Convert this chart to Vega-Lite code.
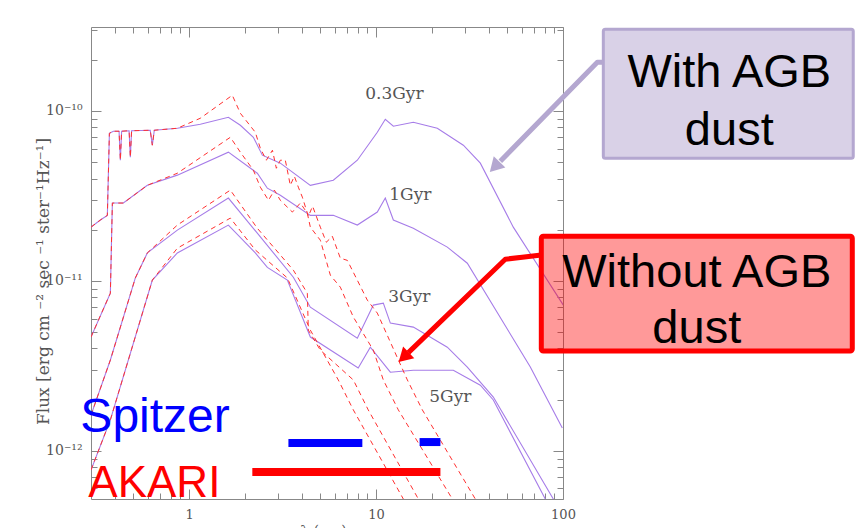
{
"$schema":"https://vega.github.io/schema/vega-lite/v6.json",
"width":472,"height":472,
"autosize":{"type":"none"},
"padding":{"left":91,"top":27,"right":292,"bottom":29},
"background":"white",
"config":{"view":{"stroke":null},"axis":{"grid":false,"domainColor":"#888","tickColor":"#888","labelFont":"DejaVu Serif","labelColor":"#555","labelFontSize":14,"titleFont":"DejaVu Serif","titleColor":"#555","titleFontWeight":"normal","titleFontSize":17}},
"resolve":{"axis":{"x":"independent","y":"independent"}},
"datasets":{
"curves":[
{"s":"0.3","t":"w","x":0.299,"y":2.07e-11},{"s":"0.3","t":"w","x":0.3355,"y":2.28e-11},{"s":"0.3","t":"w","x":0.3657,"y":2.43e-11},{"s":"0.3","t":"w","x":0.375,"y":7.39e-11},{"s":"0.3","t":"w","x":0.3937,"y":7.6e-11},{"s":"0.3","t":"w","x":0.4224,"y":7.6e-11},{"s":"0.3","t":"w","x":0.4292,"y":5.13e-11},{"s":"0.3","t":"w","x":0.436,"y":7.6e-11},{"s":"0.3","t":"w","x":0.478,"y":7.65e-11},{"s":"0.3","t":"w","x":0.4854,"y":5.34e-11},{"s":"0.3","t":"w","x":0.493,"y":7.65e-11},{"s":"0.3","t":"w","x":0.62,"y":7.7e-11},{"s":"0.3","t":"w","x":0.6364,"y":6.29e-11},{"s":"0.3","t":"w","x":0.652,"y":7.7e-11},{"s":"0.3","t":"w","x":0.8659,"y":7.91e-11},{"s":"0.3","t":"w","x":1.149,"y":8.35e-11},{"s":"0.3","t":"w","x":1.623,"y":9.18e-11},{"s":"0.3","t":"w","x":1.881,"y":8.24e-11},{"s":"0.3","t":"w","x":2.208,"y":7.0e-11},{"s":"0.3","t":"w","x":2.466,"y":5.49e-11},{"s":"0.3","t":"w","x":3.078,"y":4.93e-11},{"s":"0.3","t":"w","x":4.454,"y":3.65e-11},{"s":"0.3","t":"w","x":5.911,"y":3.91e-11},{"s":"0.3","t":"w","x":7.943,"y":5.13e-11},{"s":"0.3","t":"w","x":10.16,"y":7.49e-11},{"s":"0.3","t":"w","x":11.21,"y":8.94e-11},{"s":"0.3","t":"w","x":12.38,"y":8.13e-11},{"s":"0.3","t":"w","x":15.83,"y":8.58e-11},{"s":"0.3","t":"w","x":21.27,"y":7.91e-11},{"s":"0.3","t":"w","x":29.31,"y":6.29e-11},{"s":"0.3","t":"w","x":36.13,"y":4.93e-11},{"s":"0.3","t":"w","x":54.22,"y":2.07e-11},{"s":"0.3","t":"w","x":100.4,"y":7.2e-12},
{"s":"1","t":"w","x":0.299,"y":4.67e-12},{"s":"1","t":"w","x":0.3795,"y":8.46e-12},{"s":"1","t":"w","x":0.389,"y":2.87e-11},{"s":"1","t":"w","x":0.4454,"y":2.87e-11},{"s":"1","t":"w","x":0.5984,"y":3.65e-11},{"s":"1","t":"w","x":0.8659,"y":4.19e-11},{"s":"1","t":"w","x":1.623,"y":5.72e-11},{"s":"1","t":"w","x":2.318,"y":4.3e-11},{"s":"1","t":"w","x":2.623,"y":3.51e-11},{"s":"1","t":"w","x":3.078,"y":3.19e-11},{"s":"1","t":"w","x":4.454,"y":2.43e-11},{"s":"1","t":"w","x":5.911,"y":2.43e-11},{"s":"1","t":"w","x":7.943,"y":2.13e-11},{"s":"1","t":"w","x":10.16,"y":2.54e-11},{"s":"1","t":"w","x":11.21,"y":3.07e-11},{"s":"1","t":"w","x":12.38,"y":2.28e-11},{"s":"1","t":"w","x":15.83,"y":2.04e-11},{"s":"1","t":"w","x":24.06,"y":1.58e-11},{"s":"1","t":"w","x":30.78,"y":1.27e-11},{"s":"1","t":"w","x":66.87,"y":3.11e-12},{"s":"1","t":"w","x":99.15,"y":1.36e-12},
{"s":"3","t":"w","x":0.299,"y":1.62e-12},{"s":"3","t":"w","x":0.3795,"y":3.42e-12},{"s":"3","t":"w","x":0.5162,"y":1.04e-11},{"s":"3","t":"w","x":0.5984,"y":1.46e-11},{"s":"3","t":"w","x":0.8659,"y":1.99e-11},{"s":"3","t":"w","x":1.623,"y":3.07e-11},{"s":"3","t":"w","x":2.318,"y":1.91e-11},{"s":"3","t":"w","x":3.613,"y":1.05e-11},{"s":"3","t":"w","x":4.454,"y":7.0e-12},{"s":"3","t":"w","x":7.943,"y":4.6e-12},{"s":"3","t":"w","x":9.674,"y":7.2e-12},{"s":"3","t":"w","x":10.94,"y":7.39e-12},{"s":"3","t":"w","x":11.93,"y":5.64e-12},{"s":"3","t":"w","x":15.83,"y":5.34e-12},{"s":"3","t":"w","x":24.06,"y":4.07e-12},{"s":"3","t":"w","x":30.78,"y":3.11e-12},{"s":"3","t":"w","x":42.4,"y":2.07e-12},{"s":"3","t":"w","x":88.74,"y":5.2e-13},{"s":"3","t":"w","x":95,"y":4.5e-13},
{"s":"5","t":"w","x":0.299,"y":7.7e-13},{"s":"5","t":"w","x":0.3795,"y":1.52e-12},{"s":"5","t":"w","x":0.6364,"y":1.01e-11},{"s":"5","t":"w","x":0.8659,"y":1.46e-11},{"s":"5","t":"w","x":1.623,"y":2.13e-11},{"s":"5","t":"w","x":2.262,"y":1.46e-11},{"s":"5","t":"w","x":2.623,"y":1.2e-11},{"s":"5","t":"w","x":3.356,"y":1.01e-11},{"s":"5","t":"w","x":4.454,"y":4.67e-12},{"s":"5","t":"w","x":8.03,"y":3.07e-12},{"s":"5","t":"w","x":9.322,"y":4.07e-12},{"s":"5","t":"w","x":11.93,"y":2.9e-12},{"s":"5","t":"w","x":15.83,"y":2.98e-12},{"s":"5","t":"w","x":25.91,"y":2.98e-12},{"s":"5","t":"w","x":36.13,"y":2.43e-12},{"s":"5","t":"w","x":42.4,"y":1.99e-12},{"s":"5","t":"w","x":80.4,"y":5.2e-13},{"s":"5","t":"w","x":86,"y":4.5e-13},
{"s":"0.3","t":"n","x":0.299,"y":2.07e-11},{"s":"0.3","t":"n","x":0.3355,"y":2.28e-11},{"s":"0.3","t":"n","x":0.3657,"y":2.43e-11},{"s":"0.3","t":"n","x":0.375,"y":7.39e-11},{"s":"0.3","t":"n","x":0.3937,"y":7.6e-11},{"s":"0.3","t":"n","x":0.4224,"y":7.6e-11},{"s":"0.3","t":"n","x":0.4292,"y":5.13e-11},{"s":"0.3","t":"n","x":0.436,"y":7.6e-11},{"s":"0.3","t":"n","x":0.478,"y":7.65e-11},{"s":"0.3","t":"n","x":0.4854,"y":5.34e-11},{"s":"0.3","t":"n","x":0.493,"y":7.65e-11},{"s":"0.3","t":"n","x":0.62,"y":7.7e-11},{"s":"0.3","t":"n","x":0.6364,"y":6.29e-11},{"s":"0.3","t":"n","x":0.652,"y":7.7e-11},{"s":"0.3","t":"n","x":0.8659,"y":7.91e-11},{"s":"0.3","t":"n","x":1.149,"y":9.06e-11},{"s":"0.3","t":"n","x":1.704,"y":1.237e-10},{"s":"0.3","t":"n","x":1.881,"y":9.69e-11},{"s":"0.3","t":"n","x":2.262,"y":7.49e-11},{"s":"0.3","t":"n","x":2.406,"y":6.03e-11},{"s":"0.3","t":"n","x":2.591,"y":5.13e-11},{"s":"0.3","t":"n","x":2.793,"y":5.87e-11},{"s":"0.3","t":"n","x":2.93,"y":4.6e-11},{"s":"0.3","t":"n","x":3.078,"y":5.13e-11},{"s":"0.3","t":"n","x":3.273,"y":5.13e-11},{"s":"0.3","t":"n","x":3.481,"y":3.65e-11},{"s":"0.3","t":"n","x":3.657,"y":4.13e-11},{"s":"0.3","t":"n","x":3.841,"y":3.56e-11},{"s":"0.3","t":"n","x":4.036,"y":3.11e-11},{"s":"0.3","t":"n","x":4.345,"y":2.4e-11},{"s":"0.3","t":"n","x":4.58,"y":2.75e-11},{"s":"0.3","t":"n","x":5.037,"y":2.07e-11},{"s":"0.3","t":"n","x":5.424,"y":1.688e-11},{"s":"0.3","t":"n","x":5.84,"y":1.83e-11},{"s":"0.3","t":"n","x":6.444,"y":1.36e-11},{"s":"0.3","t":"n","x":7.024,"y":1.32e-11},{"s":"0.3","t":"n","x":8.984,"y":7.7e-12},{"s":"0.3","t":"n","x":10.16,"y":6.46e-12},{"s":"0.3","t":"n","x":14.71,"y":2.61e-12},{"s":"0.3","t":"n","x":17.69,"y":1.74e-12},{"s":"0.3","t":"n","x":33.96,"y":5.2e-13},{"s":"0.3","t":"n","x":36.13,"y":4.6e-13},
{"s":"1","t":"n","x":0.299,"y":4.67e-12},{"s":"1","t":"n","x":0.3795,"y":8.46e-12},{"s":"1","t":"n","x":0.389,"y":2.87e-11},{"s":"1","t":"n","x":0.4454,"y":2.87e-11},{"s":"1","t":"n","x":0.5984,"y":3.65e-11},{"s":"1","t":"n","x":0.8659,"y":4.3e-11},{"s":"1","t":"n","x":1.663,"y":7.0e-11},{"s":"1","t":"n","x":1.881,"y":5.72e-11},{"s":"1","t":"n","x":2.208,"y":4.48e-11},{"s":"1","t":"n","x":2.406,"y":3.56e-11},{"s":"1","t":"n","x":2.66,"y":2.98e-11},{"s":"1","t":"n","x":2.86,"y":3.42e-11},{"s":"1","t":"n","x":3.078,"y":2.98e-11},{"s":"1","t":"n","x":3.57,"y":2.54e-11},{"s":"1","t":"n","x":3.937,"y":2.87e-11},{"s":"1","t":"n","x":4.292,"y":2.5e-11},{"s":"1","t":"n","x":4.454,"y":2.07e-11},{"s":"1","t":"n","x":5.037,"y":1.735e-11},{"s":"1","t":"n","x":5.7,"y":1.079e-11},{"s":"1","t":"n","x":6.444,"y":9.18e-12},{"s":"1","t":"n","x":7.562,"y":6.12e-12},{"s":"1","t":"n","x":9.674,"y":3.91e-12},{"s":"1","t":"n","x":10.94,"y":2.61e-12},{"s":"1","t":"n","x":13.16,"y":1.74e-12},{"s":"1","t":"n","x":25.59,"y":5.2e-13},{"s":"1","t":"n","x":27,"y":4.6e-13},
{"s":"3","t":"n","x":0.299,"y":1.62e-12},{"s":"3","t":"n","x":0.3795,"y":3.42e-12},{"s":"3","t":"n","x":0.5162,"y":1.04e-11},{"s":"3","t":"n","x":0.5984,"y":1.46e-11},{"s":"3","t":"n","x":0.8659,"y":2.13e-11},{"s":"3","t":"n","x":1.663,"y":3.42e-11},{"s":"3","t":"n","x":2.318,"y":2.04e-11},{"s":"3","t":"n","x":3.613,"y":1.156e-11},{"s":"3","t":"n","x":4.292,"y":8.46e-12},{"s":"3","t":"n","x":4.345,"y":5.13e-12},{"s":"3","t":"n","x":5.037,"y":3.91e-12},{"s":"3","t":"n","x":7.562,"y":2.61e-12},{"s":"3","t":"n","x":9.085,"y":1.74e-12},{"s":"3","t":"n","x":16.84,"y":5.2e-13},{"s":"3","t":"n","x":18,"y":4.6e-13},
{"s":"5","t":"n","x":0.299,"y":7.7e-13},{"s":"5","t":"n","x":0.3795,"y":1.52e-12},{"s":"5","t":"n","x":0.6364,"y":1.01e-11},{"s":"5","t":"n","x":0.8659,"y":1.557e-11},{"s":"5","t":"n","x":1.663,"y":2.34e-11},{"s":"5","t":"n","x":2.262,"y":1.52e-11},{"s":"5","t":"n","x":3.356,"y":1.04e-11},{"s":"5","t":"n","x":4.454,"y":5.13e-12},{"s":"5","t":"n","x":6.285,"y":2.61e-12},{"s":"5","t":"n","x":7.562,"y":1.74e-12},{"s":"5","t":"n","x":14.0,"y":5.2e-13},{"s":"5","t":"n","x":15,"y":4.6e-13}
]},
"layer":[
{"data":{"name":"curves"},"transform":[{"filter":"datum.t == 'w'"}],
 "mark":{"type":"line","clip":true,"color":"#a67ce8","strokeWidth":1.1},
 "encoding":{
  "x":{"field":"x","type":"quantitative","scale":{"type":"log","domain":[0.299,100],"nice":false},
   "axis":{"orient":"bottom","values":[1,10,100],"tickSize":-10,"labelPadding":19,"labelFontSize":13,"format":"~g","labelFlush":false,"labelOverlap":false,"title":"λ (μm)","titleFontSize":14,"titleX":232,"titleY":25,"titleBaseline":"top","titleAlign":"center"}},
  "y":{"field":"y","type":"quantitative","scale":{"type":"log","domain":[5.2e-13,3.12e-10],"nice":false},
   "axis":{"orient":"left","values":[1e-12,1e-11,1e-10],"tickSize":-10,"labelPadding":19,"labelFlush":false,"labelOverlap":false,"labelExpr":"datum.value < 5e-12 ? '10⁻¹²' : datum.value < 5e-11 ? '10⁻¹¹' : '10⁻¹⁰'","title":"Flux [erg cm  ⁻² sec  ⁻¹ ster⁻¹Hz⁻¹]","titleX":-48,"titleY":254,"titleAngle":-90,"titleAlign":"center","titleBaseline":"middle"}},
  "detail":{"field":"s"}}},
{"data":{"name":"curves"},"transform":[{"filter":"datum.t == 'n'"}],
 "mark":{"type":"line","clip":true,"color":"#ff3030","strokeWidth":1,"strokeDash":[5,4]},
 "encoding":{
  "x":{"field":"x","type":"quantitative","scale":{"type":"log","domain":[0.299,100],"nice":false},
   "axis":{"orient":"top","values":[1,10,100],"tickSize":-10,"labels":false,"title":null}},
  "y":{"field":"y","type":"quantitative","scale":{"type":"log","domain":[5.2e-13,3.12e-10],"nice":false},
   "axis":{"orient":"right","values":[1e-12,1e-11,1e-10],"tickSize":-10,"labels":false,"title":null}},
  "detail":{"field":"s"}}},
{"data":{"values":[{"label":"0.3Gyr","x":12.53,"y":1.254e-10},{"label":"1Gyr","x":15.26,"y":3.19e-11},{"label":"3Gyr","x":15.07,"y":8.02e-12},{"label":"5Gyr","x":24.96,"y":2.07e-12}]},
 "mark":{"type":"text","font":"DejaVu Serif","fontSize":17,"color":"#555","align":"center","baseline":"middle"},
 "encoding":{
  "x":{"field":"x","type":"quantitative","scale":{"type":"log","domain":[0.299,100],"nice":false},
   "axis":{"orient":"bottom","values":[0.4,0.5,0.6,0.7,0.8,0.9,2,3,4,5,6,7,8,9,20,30,40,50,60,70,80,90],"tickSize":-6,"labels":false,"title":null,"domain":false}},
  "y":{"field":"y","type":"quantitative","scale":{"type":"log","domain":[5.2e-13,3.12e-10],"nice":false},
   "axis":{"orient":"left","values":[6e-13,7e-13,8e-13,9e-13,2e-12,3e-12,4e-12,5e-12,6e-12,7e-12,8e-12,9e-12,2e-11,3e-11,4e-11,5e-11,6e-11,7e-11,8e-11,9e-11,2e-10,3e-10],"tickSize":-6,"labels":false,"title":null,"domain":false}},
  "text":{"field":"label"}}},
{"data":{"values":[{"x":3.4,"x2":8.45,"y":1.11e-12},{"x":17.1,"x2":22.1,"y":1.125e-12}]},
 "mark":{"type":"rule","clip":false,"color":"#0000ff","strokeWidth":8},
 "encoding":{
  "x":{"field":"x","type":"quantitative","scale":{"type":"log","domain":[0.299,100],"nice":false},
   "axis":{"orient":"top","values":[0.4,0.5,0.6,0.7,0.8,0.9,2,3,4,5,6,7,8,9,20,30,40,50,60,70,80,90],"tickSize":-6,"labels":false,"title":null,"domain":false}},
  "x2":{"field":"x2"},
  "y":{"field":"y","type":"quantitative","scale":{"type":"log","domain":[5.2e-13,3.12e-10],"nice":false},
   "axis":{"orient":"right","values":[6e-13,7e-13,8e-13,9e-13,2e-12,3e-12,4e-12,5e-12,6e-12,7e-12,8e-12,9e-12,2e-11,3e-11,4e-11,5e-11,6e-11,7e-11,8e-11,9e-11,2e-10,3e-10],"tickSize":-6,"labels":false,"title":null,"domain":false}}}},
{"data":{"values":[{"x":2.18,"x2":22.1,"y":7.49e-13}]},
 "mark":{"type":"rule","clip":false,"color":"#ff0000","strokeWidth":8},
 "encoding":{"x":{"field":"x","type":"quantitative","scale":{"type":"log","domain":[0.299,100],"nice":false},"axis":null},"x2":{"field":"x2"},
  "y":{"field":"y","type":"quantitative","scale":{"type":"log","domain":[5.2e-13,3.12e-10],"nice":false},"axis":null}}},
{"data":{"values":[{"t":"Spitzer","x":0.2623,"y":1.288e-12}]},
 "mark":{"type":"text","clip":false,"font":"Liberation Sans","fontSize":48,"color":"#0000ff","align":"left","baseline":"alphabetic"},
 "encoding":{"x":{"field":"x","type":"quantitative","scale":{"type":"log","domain":[0.299,100],"nice":false},"axis":null},
  "y":{"field":"y","type":"quantitative","scale":{"type":"log","domain":[5.2e-13,3.12e-10],"nice":false},"axis":null},"text":{"field":"t"}}},
{"data":{"values":[{"t":"AKARI","x":0.2893,"y":5.34e-13}]},
 "mark":{"type":"text","clip":false,"font":"Liberation Sans","fontSize":44,"color":"#ff0000","align":"left","baseline":"alphabetic"},
 "encoding":{"x":{"field":"x","type":"quantitative","scale":{"type":"log","domain":[0.299,100],"nice":false},"axis":null},
  "y":{"field":"y","type":"quantitative","scale":{"type":"log","domain":[5.2e-13,3.12e-10],"nice":false},"axis":null},"text":{"field":"t"}}},
{"data":{"values":[{"x":164.3,"x2":3567,"y":3.023e-10,"y2":5.27e-11}]},
 "mark":{"type":"rect","clip":false,"fill":"#d9d1e7","stroke":"#b4a7d0","strokeWidth":3,"cornerRadius":2},
 "encoding":{"x":{"field":"x","type":"quantitative","scale":{"type":"log","domain":[0.299,100],"nice":false},"axis":null},"x2":{"field":"x2"},
  "y":{"field":"y","type":"quantitative","scale":{"type":"log","domain":[5.2e-13,3.12e-10],"nice":false},"axis":null},"y2":{"field":"y2"}}},
{"data":{"values":[{"o":1,"x":164.3,"y":1.934e-10},{"o":2,"x":152.6,"y":1.934e-10},{"o":3,"x":46.2,"y":5.06e-11}]},
 "mark":{"type":"line","clip":false,"color":"#b4a7d0","strokeWidth":5,"strokeJoin":"round"},
 "encoding":{"x":{"field":"x","type":"quantitative","scale":{"type":"log","domain":[0.299,100],"nice":false},"axis":null},
  "y":{"field":"y","type":"quantitative","scale":{"type":"log","domain":[5.2e-13,3.12e-10],"nice":false},"axis":null},"order":{"field":"o"}}},
{"data":{"values":[{"x":43.99,"y":4.79e-11}]},
 "mark":{"type":"point","clip":false,"shape":"triangle","filled":true,"color":"#b4a7d0","opacity":1,"size":260,"angle":224},
 "encoding":{"x":{"field":"x","type":"quantitative","scale":{"type":"log","domain":[0.299,100],"nice":false},"axis":null},
  "y":{"field":"y","type":"quantitative","scale":{"type":"log","domain":[5.2e-13,3.12e-10],"nice":false},"axis":null}}},
{"data":{"values":[{"x":76.56,"x2":3525,"y":1.833e-11,"y2":3.86e-12}]},
 "mark":{"type":"rect","clip":false,"fill":"#ff0000","fillOpacity":0.4,"stroke":"#ff0000","strokeWidth":5,"cornerRadius":2},
 "encoding":{"x":{"field":"x","type":"quantitative","scale":{"type":"log","domain":[0.299,100],"nice":false},"axis":null},"x2":{"field":"x2"},
  "y":{"field":"y","type":"quantitative","scale":{"type":"log","domain":[5.2e-13,3.12e-10],"nice":false},"axis":null},"y2":{"field":"y2"}}},
{"data":{"values":[{"o":1,"x":76.56,"y":1.42e-11},{"o":2,"x":49.14,"y":1.341e-11},{"o":3,"x":14.89,"y":3.78e-12}]},
 "mark":{"type":"line","clip":false,"color":"#ff0000","strokeWidth":5,"strokeJoin":"round"},
 "encoding":{"x":{"field":"x","type":"quantitative","scale":{"type":"log","domain":[0.299,100],"nice":false},"axis":null},
  "y":{"field":"y","type":"quantitative","scale":{"type":"log","domain":[5.2e-13,3.12e-10],"nice":false},"axis":null},"order":{"field":"o"}}},
{"data":{"values":[{"x":14.35,"y":3.63e-12}]},
 "mark":{"type":"point","clip":false,"shape":"triangle","filled":true,"color":"#ff0000","opacity":1,"size":260,"angle":226},
 "encoding":{"x":{"field":"x","type":"quantitative","scale":{"type":"log","domain":[0.299,100],"nice":false},"axis":null},
  "y":{"field":"y","type":"quantitative","scale":{"type":"log","domain":[5.2e-13,3.12e-10],"nice":false},"axis":null}}},
{"data":{"values":[{"t":"With AGB","x":775.1,"y":1.378e-10},{"t":"dust","x":775.1,"y":6.28e-11},{"t":"Without AGB","x":519.4,"y":9.18e-12},{"t":"dust","x":519.4,"y":4.3e-12}]},
 "mark":{"type":"text","clip":false,"font":"Liberation Sans","fontSize":47,"color":"#000000","align":"center","baseline":"alphabetic"},
 "encoding":{"x":{"field":"x","type":"quantitative","scale":{"type":"log","domain":[0.299,100],"nice":false},"axis":null},
  "y":{"field":"y","type":"quantitative","scale":{"type":"log","domain":[5.2e-13,3.12e-10],"nice":false},"axis":null},"text":{"field":"t"}}}
]
}
